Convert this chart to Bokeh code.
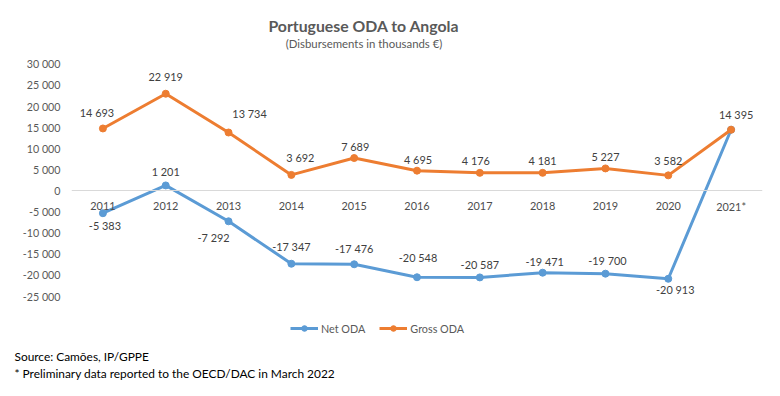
from bokeh.plotting import figure
from bokeh.models import (ColumnDataSource, Range1d, FactorRange, Span, Label,
                          Legend, LegendItem, FixedTicker, Title)
from bokeh.core.properties import value
from bokeh.embed import file_html
from bokeh.resources import INLINE

# ---- data ----
years = ["2011", "2012", "2013", "2014", "2015", "2016", "2017", "2018", "2019", "2020", "2021*"]
net_oda = [-5383, 1201, -7292, -17347, -17476, -20548, -20587, -19471, -19700, -20913, 14395]
gross_oda = [14693, 22919, 13734, 3692, 7689, 4695, 4176, 4181, 5227, 3582, 14395]
y_ticks = [-25000, -20000, -15000, -10000, -5000, 0, 5000, 10000, 15000, 20000, 25000, 30000]
title_text = "Portuguese ODA to Angola"
subtitle_text = "(Disbursements in thousands \u20ac)"
source_text = "Source: Cam\u00f5es, IP/GPPE"
note_text = "* Preliminary data reported to the OECD/DAC in March 2022"

# ---- label placement (pixels) ----
gross_dx = [-6, 0, 21, 9, 1, 1, -4, 0, 0, 0, 5]
gross_dy = [-16, -17, -19, -17, -12, -11, -12, -12, -12, -15, -15]
net_dx = [2, 0, -15, 0, 0, 1, 0, 2, 2, 7, 0]
net_dy = [12, -14, 16, -17, -16, -20, -13, -11, -13, 11, 0]

def fmt(v):
    return f"{v:,}".replace(",", " ")

FONT = "Lato"
BLUE = "#5B9BD5"
ORANGE = "#ED7D31"
AXIS_C = "#595959"
LABEL_C = "#404040"

B = 346  # frame bottom (px from top)

zero_y = [0] * len(years)
src_g = ColumnDataSource(dict(x=years, y=gross_oda, t=[fmt(v) for v in gross_oda],
                              dx=gross_dx, dy=gross_dy))
net_t = [fmt(v) for v in net_oda]
net_t[-1] = ""
src_n = ColumnDataSource(dict(x=years, y=net_oda, t=net_t, dx=net_dx, dy=net_dy))
src_x = ColumnDataSource(dict(x=years, y=zero_y, t=years))

p = figure(width=764, height=380, x_range=FactorRange(*years, range_padding=0),
           y_range=Range1d(-36950, 45000), output_backend="svg",
           toolbar_location=None, min_border_left=71, min_border_right=2,
           min_border_top=0, min_border_bottom=0)
p.outline_line_color = None
p.xgrid.visible = False
p.ygrid.visible = False
p.xaxis.visible = False

ya = p.yaxis[0]
ya.ticker = FixedTicker(ticks=y_ticks)
ya.major_label_overrides = {t: fmt(t) for t in y_ticks}
ya.axis_line_color = None
ya.major_tick_line_color = None
ya.minor_tick_line_color = None
ya.major_tick_out = 0
ya.major_label_standoff = 11
ya.major_label_text_font = FONT
ya.major_label_text_font_size = "10.7px"
ya.major_label_text_color = AXIS_C

p.add_layout(Span(location=0, dimension="width", line_color="#D9D9D9", line_width=1))

ln_n = p.line("x", "y", source=src_n, line_color=BLUE, line_width=3)
sc_n = p.scatter("x", "y", source=src_n, size=7, fill_color=BLUE, line_color=BLUE)
ln_g = p.line("x", "y", source=src_g, line_color=ORANGE, line_width=3)
sc_g = p.scatter("x", "y", source=src_g, size=7, fill_color=ORANGE, line_color=ORANGE)

for s in (src_g, src_n):
    p.text("x", "y", text="t", source=s, x_offset="dx", y_offset="dy",
           text_align="center", text_baseline="middle", text_font=value(FONT),
           text_font_size="10.9px", text_color=LABEL_C)

p.text("x", "y", text="t", source=src_x, y_offset=16, text_align="center",
       text_baseline="middle", text_font=value(FONT), text_font_size="10.9px",
       text_color="#4d4d4d")

legend = Legend(items=[LegendItem(label="Net ODA", renderers=[ln_n, sc_n]),
                       LegendItem(label="Gross ODA", renderers=[ln_g, sc_g])],
                orientation="horizontal", location=(219, B - 335),
                border_line_color=None, background_fill_alpha=0,
                padding=0, margin=0, spacing=14, glyph_width=28, glyph_height=14,
                label_standoff=3, label_text_font=FONT, label_text_font_size="10.8px",
                label_text_color=AXIS_C)
p.add_layout(legend, "center")

p.add_layout(Label(x=292.5, y=B - 25, x_units="screen", y_units="screen", text=title_text,
                   text_align="center", text_baseline="middle", text_font=FONT,
                   text_font_size="15.8px", text_font_style="bold", text_color=AXIS_C))
p.add_layout(Label(x=292.5, y=B - 43, x_units="screen", y_units="screen", text=subtitle_text,
                   text_align="center", text_baseline="middle", text_font=FONT,
                   text_font_size="11.4px", text_color=AXIS_C))

p.add_layout(Title(text=source_text, align="left", offset=-57, standoff=0,
                   text_font=FONT, text_font_size="11.9px", text_font_style="normal",
                   text_color="#000000"), "below")
p.add_layout(Title(text=note_text, align="left", offset=-57, standoff=0,
                   text_font=FONT, text_font_size="11.9px", text_font_style="normal",
                   text_color="#000000"), "below")

open("out.html", "w").write(file_html(p, INLINE))
